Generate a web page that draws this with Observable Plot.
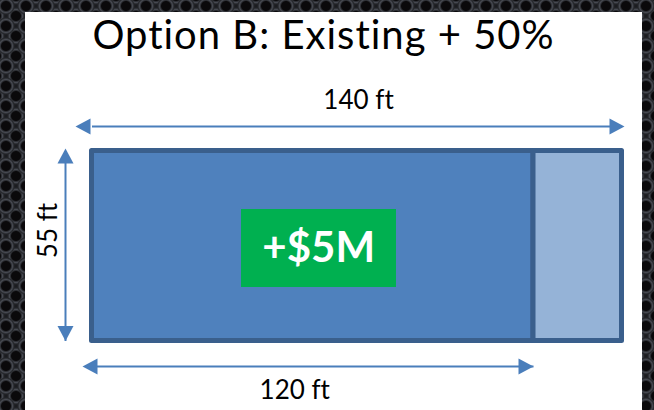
<!DOCTYPE html>
<html>
<head>
<meta charset="utf-8">
<script src="https://cdn.jsdelivr.net/npm/d3@7"></script>
<script src="https://cdn.jsdelivr.net/npm/@observablehq/plot@0.6"></script>
<style>
  html, body { margin: 0; padding: 0; background: #131417; }
  #slide {
    position: relative; width: 654px; height: 410px; overflow: hidden;
    background-color: #1b1c20;
    background-image:
      radial-gradient(circle at 50% 50%, #0a090b 0 4.5px, #2c2e33 5.5px, #474a52 6.5px, #24262a 8px, transparent 9px),
      radial-gradient(circle at 50% 50%, #0a090b 0 4.5px, #2c2e33 5.5px, #474a52 6.5px, #24262a 8px, transparent 9px);
    background-size: 20px 20px, 20px 20px;
    background-position: -4px -4px, 6px 6px;
  }
  #panel { position: absolute; left: 25px; top: 12px; width: 617px; height: 410px; background: #fff; }
  #title {
    position: absolute; left: 25px; top: 14px; width: 597px; text-align: center;
    font-family: Lato, "Open Sans", sans-serif; font-size: 40px; line-height: 40px; color: #000;
    letter-spacing: 1px; font-variant-ligatures: none; white-space: nowrap;
  }
  #chart { position: absolute; left: 0; top: 0; }
  #chart text { font-variant-ligatures: none; }
</style>
</head>
<body>
<div id="slide">
  <div id="panel"></div>
  <div id="title">Option B: Existing + 50%</div>
  <div id="chart"></div>
</div>
<script>
// Building footprint: existing hall plus the 50% extension (feet)
const sections = ["Existing", "Expansion"];
const sectionStart = [0, 120];
const sectionEnd = [120, 140];
const depth = 55;

// Dimension callouts
const dimLabels = ["140 ft", "55 ft", "120 ft"];
const dimValues = [140, 55, 120];

// Cost of the option
const costLabel = "+$5M";

const rows = sections.map((s, i) => ({section: s, x1: sectionStart[i], x2: sectionEnd[i], y1: 0, y2: depth}));
const existing = rows[0];

const arrowColor = "#4a7ebb";
const font = "Lato, 'Open Sans', sans-serif";

// Filled triangular arrowhead; overhang pushes the tip past the line end (px)
function head(overhang) {
  return (color) => {
    const ns = "http://www.w3.org/2000/svg";
    const m = document.createElementNS(ns, "marker");
    m.setAttribute("viewBox", "-15 -8 15 16");
    m.setAttribute("markerUnits", "userSpaceOnUse");
    m.setAttribute("markerWidth", 15);
    m.setAttribute("markerHeight", 16);
    m.setAttribute("refX", -overhang);
    m.setAttribute("refY", 0);
    m.setAttribute("orient", "auto-start-reverse");
    m.setAttribute("overflow", "visible");
    const p = document.createElementNS(ns, "path");
    p.setAttribute("d", "M0,0L-15,-8L-15,8Z");
    p.setAttribute("fill", color);
    p.setAttribute("stroke", "none");
    m.appendChild(p);
    return m;
  };
}

const chart = Plot.plot({
  width: 654,
  height: 410,
  margin: 0,
  x: {type: "linear", domain: [sectionStart[0], sectionEnd[0], sectionEnd[1]], range: [91.5, 533, 621.5], axis: null},
  y: {domain: [0, depth], range: [340.5, 150.5], axis: null},
  color: {domain: sections, range: ["#4f81bd", "#95b3d7"]},
  style: {background: "transparent", fontFamily: font},
  marks: [
    // footprint
    Plot.rect(rows, {x1: "x1", x2: "x2", y1: "y1", y2: "y2", fill: "section", stroke: "#3a5f8c", strokeWidth: 5, strokeLinejoin: "round"}),
    // cost badge
    Plot.rect([existing], {x1: "x1", x2: "x2", y1: "y1", y2: "y2", fill: "#00b050",
      insetLeft: 149.5, insetRight: 137, insetTop: 58.5, insetBottom: 53.5}),
    Plot.text([existing], {x: d => (d.x1 + d.x2) / 2, y: d => (d.y1 + d.y2) / 2, text: () => costLabel,
      fill: "#fff", fontWeight: "bold", fontSize: 42, lineAnchor: "middle", dx: 6, dy: 3}),
    // overall length
    Plot.link([{a: 0, b: dimValues[0], y: depth}], {x1: "a", x2: "b", y1: "y", y2: "y", dy: -24.5,
      stroke: arrowColor, strokeWidth: 2, markerStart: head(16.5), markerEnd: head(2.5)}),
    Plot.text([{x: dimValues[0] / 2, y: depth}], {x: "x", y: "y", text: () => dimLabels[0],
      fontSize: 26, lineAnchor: "bottom", dx: 9, dy: -42.5, fill: "#000"}),
    // depth
    Plot.link([{x: 0, a: 0, b: dimValues[1]}], {x1: "x", x2: "x", y1: "a", y2: "b", dx: -26.5,
      stroke: arrowColor, strokeWidth: 2, markerStart: head(0), markerEnd: head(2.5)}),
    Plot.text([{x: 0, y: dimValues[1] / 2}], {x: "x", y: "y", text: () => dimLabels[1],
      fontSize: 26, rotate: -90, lineAnchor: "bottom", dx: -35.5, dy: -15.5, fill: "#000"}),
    // existing length
    Plot.link([{a: 0, b: dimValues[2], y: 0}], {x1: "a", x2: "b", y1: "y", y2: "y", dy: 25.5,
      stroke: arrowColor, strokeWidth: 2, markerStart: head(9.5), markerEnd: head(0)}),
    Plot.text([{x: dimValues[2] / 2, y: 0}], {x: "x", y: "y", text: () => dimLabels[2],
      fontSize: 26, lineAnchor: "bottom", dx: -18, dy: 57.5, fill: "#000"})
  ]
});
document.getElementById("chart").appendChild(chart);
</script>
</body>
</html>
